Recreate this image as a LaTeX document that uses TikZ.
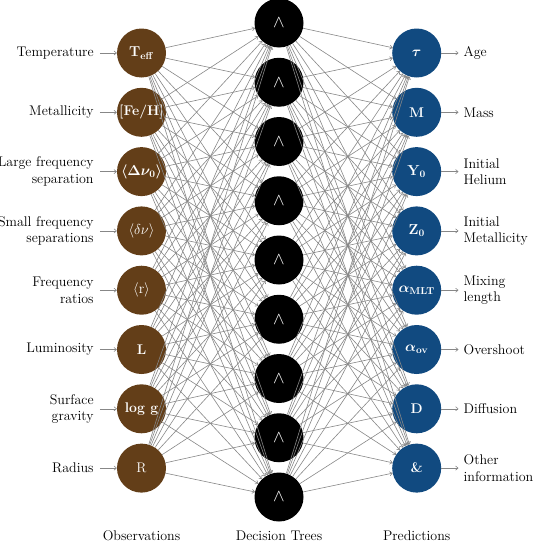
\documentclass[tikz,border=0pt]{standalone}
\usepackage{amsmath,bm}
\usetikzlibrary{arrows.meta}
\definecolor{brownnode}{RGB}{99,62,24}
\definecolor{bluenode}{RGB}{17,74,128}
\definecolor{edgegray}{RGB}{135,135,135}
\begin{document}
\begin{tikzpicture}[x=1pt,y=-1pt,
  every node/.style={font=\fontsize{14}{16.5}\selectfont},
  neuron/.style={circle,minimum size=49pt,inner sep=0pt,text=white},
  innode/.style={neuron,fill=brownnode},
  hidnode/.style={neuron,fill=black,font=\fontsize{19}{19}\selectfont},
  outnode/.style={neuron,fill=bluenode},
  edge/.style={draw=edgegray,line width=0.6pt,-{To[length=3pt,width=4.5pt]}},
  lab/.style={inner sep=0pt},
  leftlab/.style={lab,anchor=east,align=right},
  rightlab/.style={lab,anchor=west,align=left}]
\useasboundingbox (0,0) rectangle (539,546);
% input nodes
\foreach \i/\t in {1/{$\mathbf{T_{eff}}$},2/{\textbf{[Fe/H]}},3/{$\boldsymbol{\langle\Delta\nu_0\rangle}$},4/{$\langle\delta\nu\rangle$},5/{$\langle\mathrm{r}\rangle$},6/{\textbf{L}},7/{\textbf{log g}},8/{R}}
  \node[innode] (i\i) at (141.5,{53+(\i-1)*59.3}) {\t};
% hidden nodes
\foreach \j in {1,...,9}
  \node[hidnode] (h\j) at (279,{23+(\j-1)*59.25}) {$\wedge$};
% output nodes
\foreach \k/\t in {1/{$\boldsymbol{\tau}$},2/{\textbf{M}},3/{$\mathbf{Y_0}$},4/{$\mathbf{Z_0}$},5/{$\boldsymbol{\alpha}_{\mathbf{MLT}}$},6/{$\boldsymbol{\alpha}_{\mathbf{ov}}$},7/{\textbf{D}},8/{\textbf{\&}}}
  \node[outnode] (o\k) at (416.7,{53+(\k-1)*59.3}) {\t};
% edges
\foreach \i in {1,...,8}
  \foreach \j in {1,...,9}
    \draw[edge] (i\i) -- (h\j);
\foreach \j in {1,...,9}
  \foreach \k in {1,...,8}
    \draw[edge] (h\j) -- (o\k);
% input labels
\foreach \i/\t in {1/Temperature,2/Metallicity,3/{Large frequency\\separation},4/{Small frequency\\separations},5/{Frequency\\ratios},6/Luminosity,7/{Surface\\gravity},8/Radius}{
  \coordinate (ia\i) at ([xshift=-17pt]i\i.west);
  \node[leftlab] (il\i) at ([xshift=-6pt]ia\i) {\t};
  \draw[edge] (ia\i) -- (i\i);
}
% output labels
\foreach \k/\t in {1/Age,2/Mass,3/{Initial\\Helium},4/{Initial\\Metallicity},5/{Mixing\\length},6/Overshoot,7/Diffusion,8/{Other\\information}}{
  \coordinate (oa\k) at ([xshift=17pt]o\k.east);
  \node[rightlab] (ol\k) at ([xshift=5pt]oa\k) {\t};
  \draw[edge] (o\k) -- (oa\k);
}
% column titles
\node (t1) at (141.5,536) {Observations};
\node (t2) at (279,536) {Decision Trees};
\node (t3) at (416.7,536) {Predictions};
\end{tikzpicture}
\end{document}
